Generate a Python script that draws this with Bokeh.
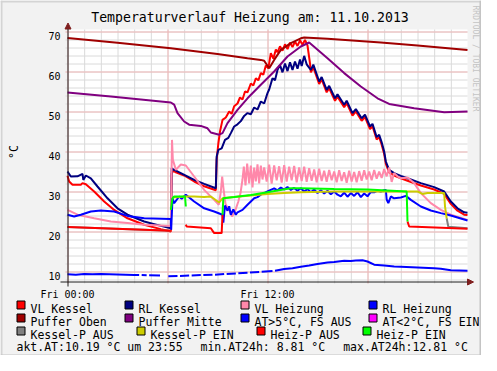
import math
from bokeh.plotting import figure
from bokeh.models import Range1d, Label, BoxAnnotation, Arrow, NormalHead
from bokeh.core.properties import value
from bokeh.embed import file_html
from bokeh.resources import INLINE

nan = float("nan")

# ---------------- data (time in hours of 11.10.2013, value in deg C) ----------------
vl_kessel = [(0.0, 33.9), (0.1, 32.5), (0.3, 31.7), (0.8, 31.7), (0.9, 32.1), (1.1, 31.8), (1.6, 30.0),
             (2.2, 27.5), (2.8, 25.4), (3.6, 23.3), (4.6, 21.7), (5.6, 20.6), (6.2, 20.0), (6.25, 34.5),
             (6.35, 35.2), (6.5, 34.8), (7.0, 34.0), (7.6, 32.5), (8.2, 31.3), (8.9, 30.3), (8.95, 38.0),
             (9.05, 42.0), (9.15, 45.0), (9.3, 47.9), (9.5, 48.5), (9.7, 50.0), (9.85, 49.4), (10.0, 51.3),
             (10.2, 52.0), (10.35, 53.5), (10.5, 53.0), (10.65, 55.0), (10.8, 54.8), (11.0, 57.0),
             (11.15, 56.5), (11.3, 58.3), (11.45, 57.8), (11.6, 59.6), (11.75, 59.2), (11.9, 61.5),
             (12.05, 60.8), (12.2, 64.6), (12.35, 63.2), (12.5, 65.5), (12.6, 64.8), (12.75, 66.3),
             (12.9, 65.2), (13.05, 66.8), (13.2, 65.6), (13.35, 67.2), (13.5, 66.1), (13.65, 67.5),
             (13.8, 66.4), (13.95, 67.8), (14.1, 66.7), (14.25, 67.9), (14.4, 66.5), (14.55, 62.0),
             (14.6, 59.8), (14.75, 61.0), (15.1, 56.9), (15.25, 58.0), (15.55, 54.8), (15.7, 55.8),
             (16.05, 52.7), (16.2, 53.7), (16.6, 51.1), (16.75, 52.1), (17.1, 49.0), (17.3, 50.0),
             (17.65, 47.7), (17.85, 48.6), (18.15, 45.6), (18.3, 46.3), (18.55, 43.0), (18.7, 43.6),
             (18.85, 41.7), (19.0, 39.4), (19.1, 36.9), (19.3, 34.8), (19.6, 34.0), (20.0, 33.3),
             (20.4, 32.7), (21.2, 31.5), (22.0, 30.5), (22.6, 29.4), (23.0, 26.9), (23.4, 25.2),
             (23.8, 24.2), (24.0, 24.1)]

rl_kessel = [(0.0, 35.0), (0.2, 33.75), (0.6, 33.8), (0.9, 34.4), (0.95, 32.9), (1.1, 34.0), (1.4, 33.3),
             (1.8, 31.25), (2.4, 28.3), (3.0, 25.8), (3.6, 24.2), (4.6, 22.5), (5.6, 21.4), (6.2, 20.8),
             (6.25, 35.8), (6.35, 35.5), (6.5, 35.2), (6.8, 34.6), (7.6, 32.9), (8.2, 31.9), (8.9, 30.8),
             (8.95, 38.75), (9.05, 40.4), (9.25, 40.8), (9.45, 42.9), (9.65, 43.4), (9.8, 44.6),
             (10.0, 46.25), (10.2, 46.8), (10.4, 47.6), (10.6, 48.9), (10.8, 49.6), (11.0, 49.3),
             (11.2, 51.0), (11.4, 50.5), (11.6, 52.5), (11.8, 52.0), (12.0, 54.6), (12.1, 55.5),
             (12.3, 58.3), (12.45, 57.8), (12.6, 60.4), (12.75, 61.6), (12.9, 59.8), (13.05, 62.0),
             (13.2, 60.1), (13.35, 62.3), (13.5, 60.4), (13.65, 62.5), (13.8, 60.7), (13.95, 63.0),
             (14.05, 61.4), (14.2, 63.9), (14.35, 61.8), (14.6, 60.4), (14.75, 61.7), (15.1, 57.5),
             (15.25, 58.6), (15.55, 55.4), (15.7, 56.4), (16.05, 53.3), (16.2, 54.3), (16.6, 51.7),
             (16.75, 52.7), (17.1, 49.6), (17.3, 50.6), (17.65, 48.3), (17.85, 49.2), (18.15, 46.25),
             (18.3, 46.9), (18.55, 43.6), (18.7, 44.2), (18.85, 42.3), (19.0, 40.0), (19.1, 37.5),
             (19.3, 35.4), (19.6, 34.6), (20.0, 33.9), (20.4, 33.3), (21.2, 32.1), (22.0, 31.1),
             (22.6, 30.0), (23.0, 27.5), (23.4, 25.8), (23.8, 24.8), (24.0, 24.7)]

vl_heizung = [(0.0, 25.4), (0.6, 24.2), (1.6, 23.3), (2.6, 22.5), (3.6, 22.1), (4.6, 21.7), (6.2, 21.4),
              (6.27, 42.9), (6.32, 38.0), (6.5, 35.4), (6.8, 36.75), (7.1, 36.5), (7.6, 33.75),
              (8.2, 30.4), (8.8, 27.9), (9.08, 26.7), (9.2, 30.0), (9.28, 33.75), (9.38, 30.0),
              (9.48, 26.9), (9.68, 25.4), (9.88, 23.75), (10.08, 25.4), (10.25, 27.5), (10.38, 29.6),
              (10.5, 33.0), (10.58, 36.2), (10.68, 31.5), (10.78, 37.0), (10.9, 32.0), (11.0, 36.5),
              (11.1, 31.0), (11.2, 36.0), (11.3, 32.5), (11.4, 36.8), (11.5, 32.0), (11.6, 36.5),
              (11.7, 33.0), (11.8, 36.0), (11.95, 32.5), (12.1, 36.7), (12.25, 32.0), (12.4, 36.5),
              (12.55, 32.8), (12.7, 36.3), (12.85, 32.2), (13.0, 36.6), (13.15, 32.5), (13.3, 36.2),
              (13.45, 32.8), (13.6, 36.4), (13.75, 32.3), (13.9, 36.0), (14.05, 32.6), (14.2, 36.2),
              (14.35, 32.4), (14.5, 35.8), (14.65, 32.7), (14.8, 35.5), (14.95, 32.3), (15.1, 35.7),
              (15.25, 32.6), (15.4, 35.2), (15.55, 32.4), (15.7, 35.4), (15.85, 32.8), (16.0, 35.0),
              (16.15, 32.3), (16.3, 35.3), (16.45, 32.6), (16.6, 34.8), (16.75, 32.2), (16.9, 35.2),
              (17.05, 32.5), (17.2, 34.9), (17.35, 32.3), (17.5, 35.1), (17.65, 32.7), (17.8, 35.3),
              (17.95, 33.0), (18.1, 35.0), (18.25, 32.8), (18.4, 35.4), (18.55, 33.2), (18.7, 35.0),
              (18.85, 33.4), (19.0, 35.6), (19.15, 33.8), (19.3, 36.0), (19.45, 32.4), (19.6, 34.6),
              (19.8, 33.8), (20.0, 33.3), (20.4, 33.5), (20.8, 32.1), (21.2, 29.6), (21.8, 27.1),
              (22.4, 25.4), (23.0, 24.2), (24.0, 22.9)]

rl_heizung = [(0.0, 24.2), (0.4, 23.75), (0.8, 24.2), (1.4, 25.0), (2.0, 25.25), (2.8, 25.0), (3.6, 23.9),
              (4.6, 23.3), (6.2, 23.1), (6.22, 20.4), (6.3, 28.3), (6.4, 27.1), (6.7, 28.75), (6.85, 28.2),
              (7.1, 29.2), (7.6, 27.5), (8.2, 25.8), (8.8, 25.0), (9.3, 24.2), (9.35, 22.2), (9.45, 26.5),
              (9.6, 25.2), (9.7, 26.3), (9.8, 24.2), (9.95, 25.5), (10.1, 24.2), (10.2, 24.8),
              (10.5, 25.4), (10.8, 26.7), (11.0, 27.5), (11.2, 28.3), (11.4, 28.6), (11.6, 29.2),
              (11.8, 29.6), (12.0, 30.0), (12.2, 30.4), (12.4, 30.8), (12.6, 30.3), (12.8, 31.0),
              (13.0, 30.5), (13.2, 31.1), (13.4, 30.4), (13.6, 30.9), (13.8, 30.2), (14.0, 30.8),
              (14.2, 30.0), (14.4, 30.6), (14.6, 29.8), (14.8, 30.5), (15.0, 29.6), (15.2, 30.3),
              (15.4, 29.5), (15.6, 30.2), (15.8, 29.3), (16.0, 30.0), (16.2, 29.2), (16.4, 28.8),
              (16.6, 29.7), (16.8, 28.7), (17.0, 29.6), (17.2, 28.9), (17.4, 29.8), (17.6, 28.6),
              (17.8, 29.5), (18.0, 28.8), (18.2, 29.9), (18.4, 29.8), (18.6, 30.2), (18.8, 30.0),
              (19.0, 30.3), (19.1, 30.4), (19.15, 28.0), (19.25, 27.1), (19.4, 28.75), (19.6, 28.3),
              (20.0, 28.5), (20.3, 28.9), (20.6, 27.9), (21.2, 26.25), (21.8, 25.25), (22.4, 24.6),
              (23.0, 24.0), (24.0, 22.75)]

puffer_oben = [(0.0, 68.4), (3.0, 67.2), (6.2, 65.8), (9.0, 64.4), (10.8, 63.3), (11.6, 62.9), (11.8, 62.7),
               (12.1, 60.8), (12.4, 62.9), (12.8, 65.4), (13.4, 67.1), (14.0, 68.3), (14.2, 68.5),
               (15.6, 68.2), (18.8, 67.25), (21.0, 66.5), (24.0, 65.4)]

puffer_mitte = [(0.0, 54.75), (2.6, 53.75), (6.2, 52.25), (6.4, 51.7), (6.6, 49.6), (7.0, 47.5), (7.3, 46.7),
                (8.0, 46.4), (8.4, 45.8), (8.6, 44.75), (9.1, 44.2), (9.3, 44.6), (9.6, 47.1), (10.2, 50.4),
                (10.8, 53.3), (11.6, 56.7), (12.4, 60.0), (13.2, 63.75), (14.0, 66.25), (14.5, 67.25),
                (15.6, 63.3), (16.6, 59.6), (17.6, 56.25), (18.6, 53.3), (19.3, 51.9), (20.8, 50.8),
                (22.6, 49.8), (24.0, 50.0)]

at_fs_aus = [(0.0, 9.3), (0.5, 9.2), (1.0, 9.4), (1.5, 9.3), (2.0, 9.35), (2.5, 9.3), (3.0, 9.25), (3.5, 9.2),
             (4.0, 9.15), (4.3, 9.1), (4.38, nan), (4.45, 9.1), (4.75, 9.05), (4.82, nan), (4.9, 9.05),
             (5.55, 9.0), (5.8, nan), (6.05, 8.8), (6.6, 8.85), (6.68, nan), (6.75, 8.9), (7.3, 9.0),
             (7.38, nan), (7.45, 9.0), (8.0, 9.1), (8.08, nan), (8.15, 9.1), (8.7, 9.2), (8.78, nan),
             (8.85, 9.2), (9.4, 9.4), (9.48, nan), (9.55, 9.4), (10.1, 9.5), (10.18, nan), (10.25, 9.55),
             (10.8, 9.7), (10.88, nan), (10.95, 9.75), (11.5, 9.9), (11.58, nan), (11.65, 9.95),
             (12.3, 10.1), (12.38, nan), (12.45, 10.2), (13.0, 10.6), (13.5, 10.8), (14.0, 11.2),
             (14.5, 11.5), (15.0, 11.9), (15.6, 12.25), (16.0, 12.4), (16.6, 12.7), (17.0, 12.6),
             (17.3, 12.75), (17.7, 12.8), (18.0, 12.5), (18.4, 11.7), (19.0, 11.5), (19.6, 11.25),
             (20.0, 11.2), (21.0, 11.0), (22.0, 10.8), (22.4, 10.7), (23.0, 10.3), (24.0, 10.2)]

at_fs_ein = []  # no data in this period

kessel_p_aus = [(0.0, 21.1), (6.2, 20.2), (6.21, nan), (22.75, 23.3), (22.85, 21.2), (24.0, 20.8)]

kessel_p_ein = [(6.3, 28.5), (7.1, 28.75), (7.6, 28.75), (8.2, 28.6), (8.6, 28.75), (9.1, 27.25), (9.3, 28.3),
                (10.0, 28.6), (11.0, 29.0), (12.0, 29.4), (13.0, 29.6), (14.0, 29.8), (16.0, 30.0),
                (18.0, 30.0), (20.0, 30.0), (21.0, 30.0), (21.3, 29.4), (21.6, 29.6), (22.6, 29.6),
                (22.65, 26.3), (22.75, 23.3)]

heiz_p_aus = [(0.0, 21.1), (6.2, 20.2), (6.21, nan), (7.1, 21.7), (7.15, 21.25), (8.6, 20.8), (8.8, 19.6),
              (9.25, 19.6), (9.3, 24.2), (9.31, nan), (20.4, 22.5), (20.5, 21.25), (24.0, 20.7)]

heiz_p_ein = [(6.2, 25.4), (6.3, 28.3), (6.4, 28.75), (7.05, 28.75), (7.1, 26.25), (7.11, nan), (9.3, 24.2),
              (9.35, 28.3), (10.0, 28.6), (11.0, 29.1), (12.0, 29.8), (13.4, 30.8), (14.0, 30.8),
              (16.0, 30.6), (18.0, 30.5), (20.35, 30.0), (20.4, 22.5)]

series_names = ["VL Kessel", "RL Kessel", "VL Heizung", "RL Heizung", "Puffer Oben", "Puffer Mitte",
                "AT>5°C, FS AUS", "AT<2°C, FS EIN", "Kessel-P AUS", "Kessel-P EIN", "Heiz-P AUS", "Heiz-P EIN"]
series_data = [vl_kessel, rl_kessel, vl_heizung, rl_heizung, puffer_oben, puffer_mitte,
               at_fs_aus, at_fs_ein, kessel_p_aus, kessel_p_ein, heiz_p_aus, heiz_p_ein]
series_colors = ["#FF0000", "#000080", "#FF88AA", "#0000FF", "#A00000", "#800080",
                 "#0000FF", "#FF00FF", "#808080", "#CCCC00", "#FF0000", "#00FF00"]

x_major = [0, 6, 12, 18]
x_minor = list(range(0, 24))
x_label_ticks = [0, 12]
x_label_texts = ["Fri 00:00", "Fri 12:00"]
y_major = [10, 20, 30, 40, 50, 60, 70]
y_minor = list(range(8, 71, 2))

title_text = "Temperaturverlauf Heizung am: 11.10.2013"
y_label = "°C"
watermark = "RRDTOOL / TOBI OETIKER"
stats_texts = ["akt.AT:10.19 °C um 23:55", "min.AT24h: 8.81 °C", "max.AT24h:12.81 °C"]

# ---------------- layout (positions given in pixels of the reference picture) ----------------
X0, X1, Y0, Y1 = 0.0, 24.0, 7.5, 70.5
FL, FT, FW, FH = 67, 33, 400, 252          # plot area in the picture (px)
W, H = 481, 355                            # canvas size, fits the window with its page margin
OFF = 4                                    # canvas top appears this many px down in the picture

def dx(px):
    return X0 + (px - FL) / FW * (X1 - X0)

def dy(py):
    return Y1 - (py - FT) / FH * (Y1 - Y0)

PXX = (X1 - X0) / FW   # one pixel in x data units
PXY = (Y1 - Y0) / FH   # one pixel in y data units

FONT = "DejaVu Sans Mono"
BG = "#F2F2F2"
AXIS = "#1F1F1F"
ARROWC = "#801F1F"
MGRID = "#F2B8B8"
GRID = "#DADADA"

p = figure(frame_width=W, frame_height=H, x_range=Range1d(dx(0), dx(W)), y_range=Range1d(dy(H + OFF), dy(OFF)),
           output_backend="svg", toolbar_location=None, x_axis_location=None, y_axis_location=None,
           min_border=0, min_border_left=0, min_border_right=0, min_border_top=0, min_border_bottom=0)
p.title = None
p.background_fill_color = BG
p.border_fill_color = BG
p.outline_line_color = None
p.grid.visible = False

# canvas (white plot area)
p.add_layout(BoxAnnotation(left=X0, right=X1, bottom=Y0, top=Y1, fill_color="white", fill_alpha=1.0,
                           line_color=None, level="underlay"))

# grid: minor first, then major; lines stick out 2px beyond the axes like RRD ticks
def vgrid(ticks, color):
    xs = [t + 0.5 * PXX for t in ticks]
    p.segment(x0=xs, y0=[Y0 - 2 * PXY] * len(xs), x1=xs, y1=[Y1] * len(xs), line_color=color, line_width=1)

def hgrid(ticks, color):
    ys = [t - 0.5 * PXY for t in ticks]
    p.segment(x0=[X0 - 2 * PXX] * len(ys), y0=ys, x1=[X1] * len(ys), y1=ys, line_color=color, line_width=1)

vgrid(x_minor, GRID)
hgrid(y_minor, GRID)
vgrid(x_major, MGRID)
hgrid(y_major, MGRID)

# data series
for data, col in zip(series_data, series_colors):
    if not data:
        continue
    ts = [d[0] for d in data]
    vs = [d[1] for d in data]
    p.line(ts, vs, line_color=col, line_width=2)

# axes with arrows
p.add_layout(Arrow(x_start=dx(60), y_start=Y0 - 0.5 * PXY, x_end=dx(473), y_end=Y0 - 0.5 * PXY,
                   line_color=AXIS, line_width=1,
                   end=NormalHead(size=6, fill_color=ARROWC, line_color=ARROWC)))
p.add_layout(Arrow(x_start=X0 + 0.5 * PXX, y_start=dy(290), x_end=X0 + 0.5 * PXX, y_end=dy(26.5),
                   line_color=AXIS, line_width=1,
                   end=NormalHead(size=6, fill_color=ARROWC, line_color=ARROWC)))

# tick labels
p.text(x=[dx(60)] * len(y_major), y=[v - 4 * PXY for v in y_major], text=[str(v) for v in y_major],
       text_font=value(FONT), text_font_size=value("10px"), text_align="right",
       text_baseline="alphabetic", text_color="black")
p.text(x=x_label_ticks, y=[dy(298)] * len(x_label_ticks), text=x_label_texts,
       text_font=value(FONT), text_font_size=value("10px"), text_align="center",
       text_baseline="alphabetic", text_color="black")

# title, axis label, watermark
p.add_layout(Label(x=dx(249.5), y=dy(21), text=title_text, text_font=FONT, text_font_size="13.2px",
                   text_align="center", text_baseline="alphabetic", text_color="black"))
p.add_layout(Label(x=dx(13.5), y=dy(155.5), text=y_label, text_font=FONT, text_font_size="11.5px",
                   text_align="center", text_baseline="middle", angle=math.pi / 2, text_color="black"))
p.add_layout(Label(x=dx(474.5), y=dy(9), text=watermark, text_font=FONT, text_font_size="8px",
                   text_align="left", text_baseline="middle", angle=-math.pi / 2, text_color="#C4C4C4"))

# legend (RRD style), rows slightly tightened so the last line stays inside the canvas
sq_left = [16, 124, 240, 368, 16, 124, 240, 368, 16, 136, 256, 362]
row_top = [304, 304, 304, 304, 317, 317, 317, 317, 330, 330, 330, 330]
for name, col, L, T in zip(series_names, series_colors, sq_left, row_top):
    p.add_layout(BoxAnnotation(left=dx(L + 0.5), right=dx(L + 8.5), top=dy(T + 0.5), bottom=dy(T + 8.5),
                               fill_color=col, fill_alpha=1.0, line_color="black", line_alpha=1.0,
                               line_width=1))
    p.add_layout(Label(x=dx(L + 14), y=dy(T + 8.3), text=name, text_font=FONT, text_font_size="11.5px",
                       text_align="left", text_baseline="alphabetic", text_color="black"))

stats_x = [16, 200, 342.7]
for txt, sx in zip(stats_texts, stats_x):
    p.add_layout(Label(x=dx(sx), y=dy(350.5), text=txt, text_font=FONT, text_font_size="11.5px",
                       text_align="left", text_baseline="alphabetic", text_color="black"))

# 3D-ish image border like RRD
top_px, bot_px = OFF, OFF + H
p.add_layout(BoxAnnotation(left=dx(0), right=dx(W), top=dy(top_px), bottom=dy(top_px + 2), fill_color="#D4D4D4",
                           fill_alpha=1.0, line_color=None))
p.add_layout(BoxAnnotation(left=dx(0), right=dx(2), top=dy(top_px), bottom=dy(bot_px), fill_color="#D4D4D4",
                           fill_alpha=1.0, line_color=None))
p.add_layout(BoxAnnotation(left=dx(W - 2), right=dx(W), top=dy(top_px), bottom=dy(bot_px), fill_color="#C4C4C4",
                           fill_alpha=1.0, line_color=None))
p.add_layout(BoxAnnotation(left=dx(0), right=dx(W), top=dy(bot_px - 1), bottom=dy(bot_px), fill_color="#C4C4C4",
                           fill_alpha=1.0, line_color=None))

open("out.html", "w").write(file_html(p, INLINE))
